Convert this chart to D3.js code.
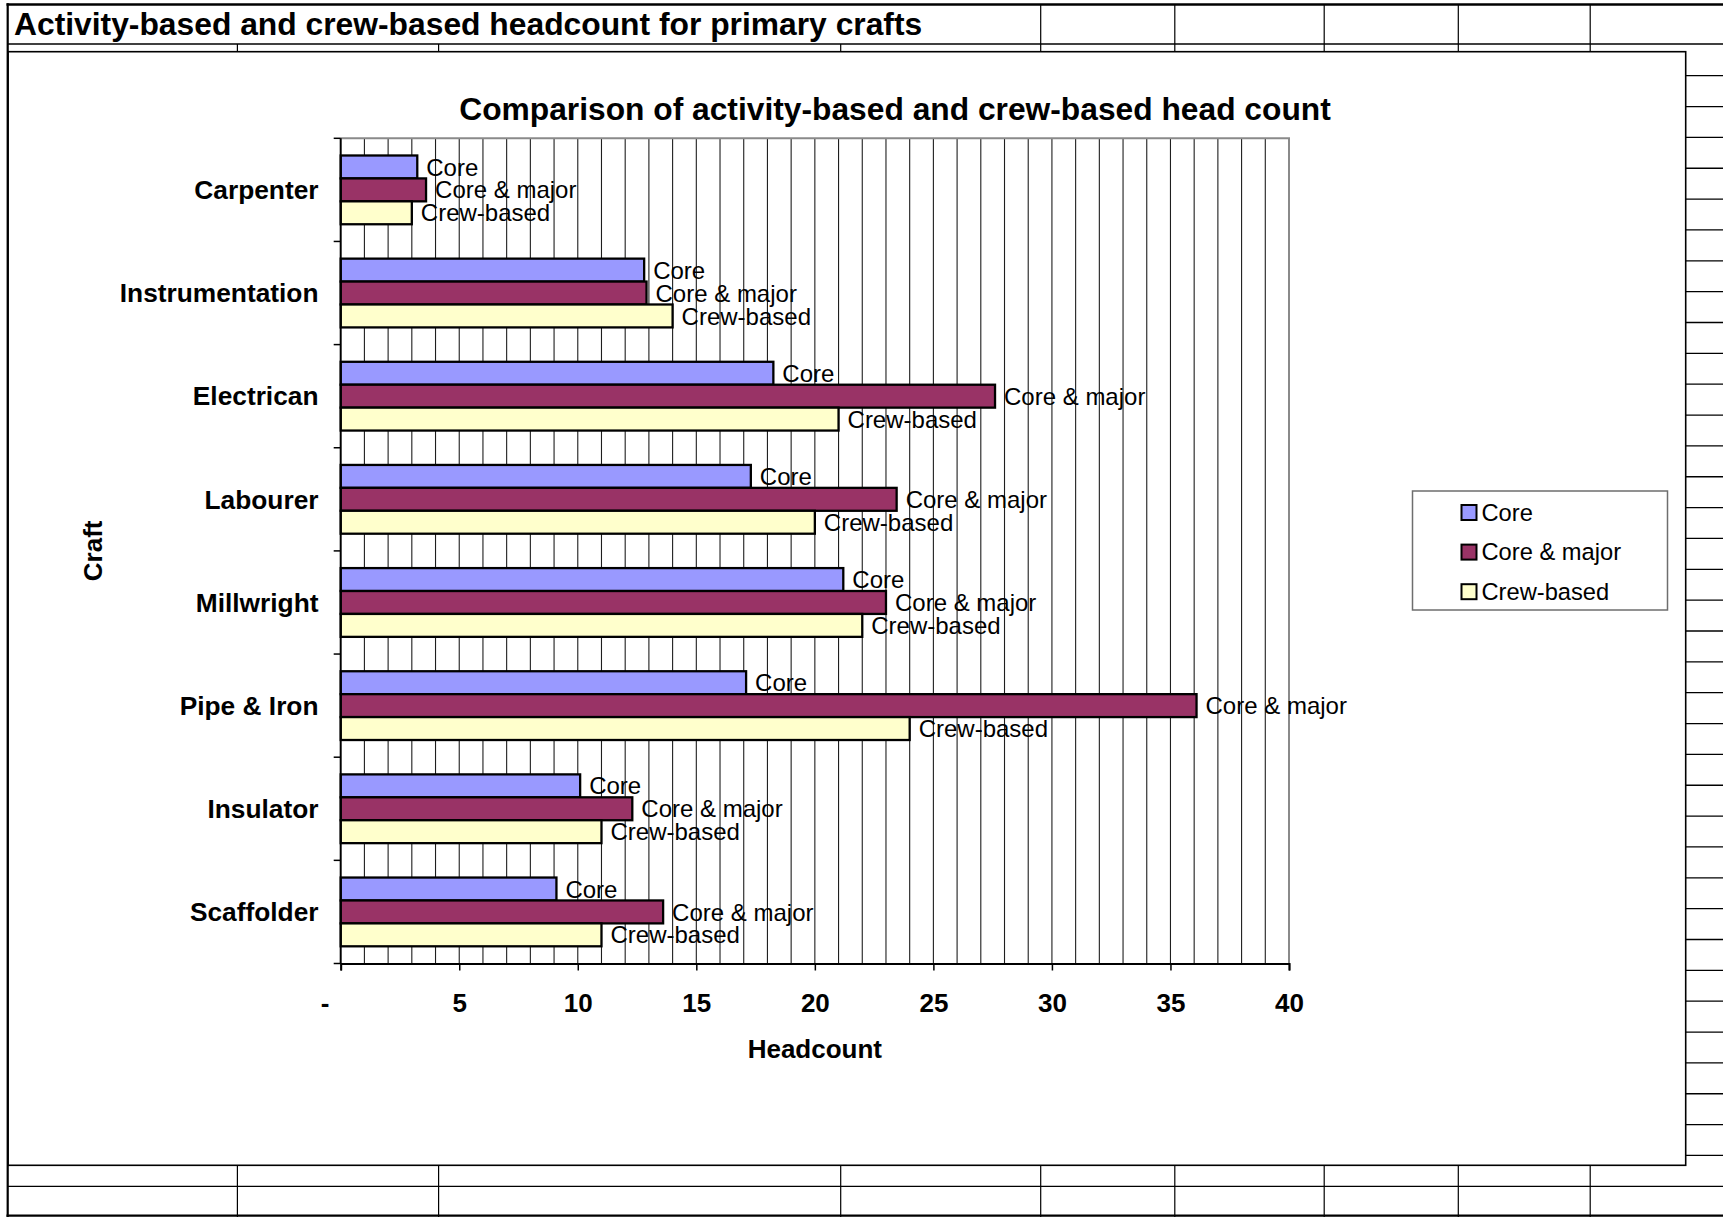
<!DOCTYPE html>
<html>
<head>
<meta charset="utf-8">
<script src="https://cdn.jsdelivr.net/npm/d3@7"></script>
<style>
  html, body { margin: 0; padding: 0; background: #fff; }
  svg { display: block; font-family: "Liberation Sans", Arial, sans-serif; }
</style>
</head>
<body>
<svg id="sheet" width="1723" height="1217"></svg>
<script>
// Headcount per craft, three estimates
const categories = ["Carpenter", "Instrumentation", "Electrican", "Labourer", "Millwright", "Pipe & Iron", "Insulator", "Scaffolder"];
const seriesNames = ["Core", "Core & major", "Crew-based"];
const coreValues = [3.23, 12.8, 18.25, 17.3, 21.2, 17.1, 10.1, 9.1];
const coreMajorValues = [3.6, 12.9, 27.6, 23.45, 23.0, 36.1, 12.3, 13.6];
const crewValues = [3.0, 14.0, 21.0, 20.0, 22.0, 24.0, 11.0, 11.0];
const xTickValues = [0, 5, 10, 15, 20, 25, 30, 35, 40];

const seriesColors = ["#9999FF", "#993366", "#FFFFCC"];

const svg = d3.select("#sheet");
const W = 1723, H = 1217;

// ---- worksheet grid behind the chart object ----
const grid = svg.append("g");
const colX = [237.4, 438.6, 840.7, 1040.7, 1174.8, 1324.2, 1458.3, 1590.2];
const rowY = [44].concat(d3.range(37).map(k => 75.7 + k * 30.85));
grid.selectAll("line.row").data(rowY).join("line")
  .attr("x1", 8).attr("x2", W).attr("y1", d => d).attr("y2", d => d)
  .attr("stroke", "#000").attr("stroke-width", 1.3);
grid.selectAll("line.col").data(colX).join("line")
  .attr("x1", d => d).attr("x2", d => d)
  .attr("y1", d => d > 1000 ? 4 : 44).attr("y2", H)
  .attr("stroke", "#000").attr("stroke-width", 1.2);

// sheet title cell
svg.append("text")
  .attr("x", 14).attr("y", 34.5)
  .attr("font-size", 31.8).attr("font-weight", "bold").attr("fill", "#000")
  .text("Activity-based and crew-based headcount for primary crafts");

// ---- chart object ----
const box = { x: 8, y: 51.7, w: 1677.7, h: 1113.6 };
svg.append("rect")
  .attr("x", box.x).attr("y", box.y).attr("width", box.w).attr("height", box.h)
  .attr("fill", "#fff").attr("stroke", "#000").attr("stroke-width", 1.6);

// outer thick borders of the printed range
svg.append("line").attr("x1", 6.5).attr("x2", W).attr("y1", 4.5).attr("y2", 4.5)
  .attr("stroke", "#000").attr("stroke-width", 2.6);
svg.append("line").attr("x1", 7.7).attr("x2", 7.7).attr("y1", 3.2).attr("y2", H)
  .attr("stroke", "#000").attr("stroke-width", 2.2);
svg.append("line").attr("x1", 6.5).attr("x2", W).attr("y1", 1215.6).attr("y2", 1215.6)
  .attr("stroke", "#000").attr("stroke-width", 2.4);

// chart title
svg.append("text")
  .attr("x", 895).attr("y", 119.8).attr("text-anchor", "middle")
  .attr("font-size", 31.75).attr("font-weight", "bold").attr("fill", "#000")
  .text("Comparison of activity-based and crew-based head count");

// ---- plot area ----
const plot = { left: 340.7, right: 1289, top: 138.3, bottom: 963.5 };

const x = d3.scaleLinear().domain([0, 40]).range([plot.left, plot.right]);
const y = d3.scaleBand().domain(categories).range([plot.top, plot.bottom]).paddingInner(0).paddingOuter(0);
// bars take 3 slots, gap of 150% of one bar split around the cluster
const barH = y.bandwidth() / 4.5;
const slot = d3.scaleBand().domain(seriesNames)
  .range([0.75 * barH, 3.75 * barH]).padding(0);

const rows = categories.map((c, i) => ({
  craft: c,
  values: [coreValues[i], coreMajorValues[i], crewValues[i]]
}));

const g = svg.append("g");

// vertical gridlines at each unit
g.append("g").selectAll("line").data(d3.range(1, 40)).join("line")
  .attr("x1", d => x(d)).attr("x2", d => x(d))
  .attr("y1", plot.top).attr("y2", plot.bottom)
  .attr("stroke", "#1e1e1e").attr("stroke-width", 1.1);

// plot area border (top and right)
g.append("path")
  .attr("d", `M${plot.left},${plot.top}H${plot.right}V${plot.bottom}`)
  .attr("fill", "none").attr("stroke", "#8a8a8a").attr("stroke-width", 2);

// bars
const groups = g.append("g").selectAll("g").data(rows).join("g")
  .attr("transform", d => `translate(0,${y(d.craft)})`);

groups.selectAll("rect").data(d => d.values.map((v, k) => ({ name: seriesNames[k], k, v })))
  .join("rect")
  .attr("x", x(0))
  .attr("y", d => slot(d.name))
  .attr("width", d => x(d.v) - x(0))
  .attr("height", barH)
  .attr("fill", d => seriesColors[d.k])
  .attr("stroke", "#000").attr("stroke-width", 2.3);

// data labels: series name just past each bar end
groups.selectAll("text").data(d => d.values.map((v, k) => ({ name: seriesNames[k], k, v })))
  .join("text")
  .attr("x", d => x(d.v) + 9)
  .attr("y", d => slot(d.name) + barH / 2 + 8.6)
  .attr("font-size", 24).attr("fill", "#000")
  .text(d => d.name);

// x axis
const xAxis = d3.axisBottom(x).tickValues(xTickValues).tickSize(7)
  .tickFormat(d => d === 0 ? "-" : d3.format(",")(d));
const xg = g.append("g").attr("transform", `translate(0,${plot.bottom})`).call(xAxis);
xg.select(".domain").attr("stroke", "#000").attr("stroke-width", 2);
xg.selectAll(".tick line").attr("stroke", "#000").attr("stroke-width", 1.5);
xg.selectAll(".tick text")
  .attr("y", 48).attr("dy", 0)
  .attr("font-size", 26).attr("font-weight", "bold").attr("fill", "#000")
  .attr("font-family", "Liberation Sans, Arial, sans-serif")
  .attr("dx", d => d === 0 ? -16 : 0);

// y axis: ticks on category boundaries, labels centred in each band
const boundaries = categories.map(c => y(c)).concat([plot.bottom]);
const yg = g.append("g");
yg.append("line")
  .attr("x1", plot.left).attr("x2", plot.left).attr("y1", plot.top).attr("y2", plot.bottom)
  .attr("stroke", "#000").attr("stroke-width", 2);
yg.selectAll("line.tk").data(boundaries).join("line")
  .attr("x1", plot.left - 7).attr("x2", plot.left)
  .attr("y1", d => d).attr("y2", d => d)
  .attr("stroke", "#000").attr("stroke-width", 1.5);
yg.selectAll("text").data(categories).join("text")
  .attr("x", 318.5)
  .attr("y", d => y(d) + y.bandwidth() / 2 + 9.3)
  .attr("text-anchor", "end")
  .attr("font-size", 26.3).attr("font-weight", "bold").attr("fill", "#000")
  .text(d => d);

// axis titles
svg.append("text")
  .attr("x", (plot.left + plot.right) / 2).attr("y", 1058)
  .attr("text-anchor", "middle")
  .attr("font-size", 26).attr("font-weight", "bold").attr("fill", "#000")
  .text("Headcount");
svg.append("text")
  .attr("transform", `translate(101.5,${(plot.top + plot.bottom) / 2}) rotate(-90)`)
  .attr("text-anchor", "middle")
  .attr("font-size", 26).attr("font-weight", "bold").attr("fill", "#000")
  .text("Craft");

// ---- legend ----
const legend = svg.append("g");
legend.append("rect")
  .attr("x", 1412.5).attr("y", 491).attr("width", 255).attr("height", 119)
  .attr("fill", "#fff").attr("stroke", "#6e6e6e").attr("stroke-width", 1.5);
const items = legend.selectAll("g.item").data(seriesNames).join("g")
  .attr("transform", (d, i) => `translate(0,${520.5 + i * 39.6})`);
items.append("rect")
  .attr("x", 1461.5).attr("y", -15.5).attr("width", 15).attr("height", 15)
  .attr("fill", (d, i) => seriesColors[i])
  .attr("stroke", "#000").attr("stroke-width", 2);
items.append("text")
  .attr("x", 1481.5).attr("y", 0)
  .attr("font-size", 23.7).attr("fill", "#000")
  .text(d => d);
</script>
</body>
</html>
